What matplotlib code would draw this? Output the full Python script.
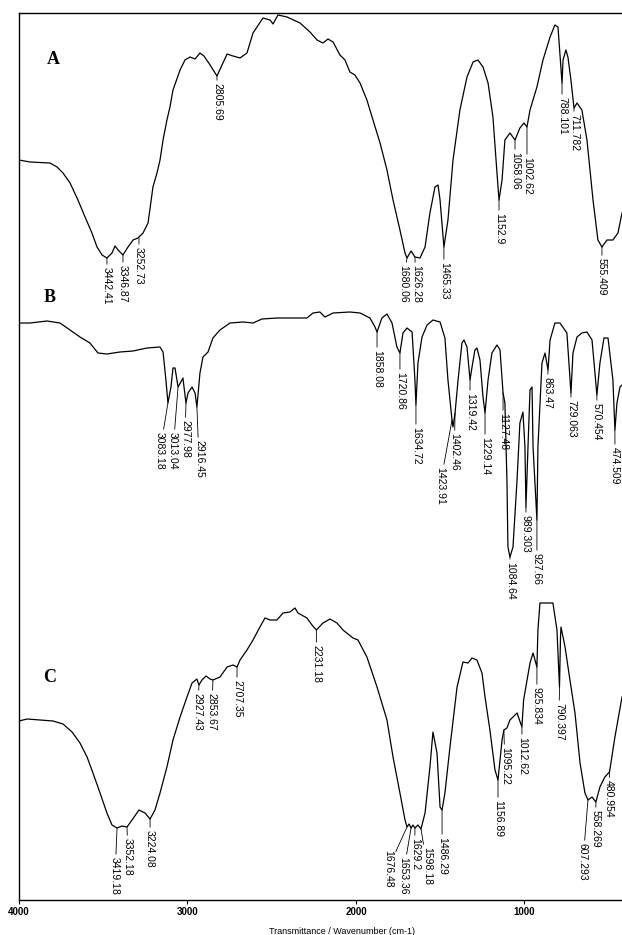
import matplotlib
matplotlib.use('Agg')
import matplotlib.pyplot as plt
import numpy as np

# ---------------- data (wavenumber cm-1, relative transmittance offset units) -------------
A_w = [4000,3935,3816,3774,3739,3697,3650,3608,3567,3537,3507,3478,3448,3430,3412,3383,3353,3323,3294,3264,
       3234,3205,3181,3163,3145,3122,3104,3086,3044,3015,2985,2955,2926,2902,2866,2825,2795,2765,2730,2688,
       2647,2611,2552,2510,2492,2463,2409,2332,2273,2231,2196,2166,2136,2095,2065,2036,2006,1976,1935,1899,
       1857,1816,1780,1739,1709,1697,1673,1650,1620,1590,1561,1531,1513,1501,1478,1454,1424,1383,1341,1305,
       1276,1246,1216,1187,1163,1151,1133,1116,1086,1056,1027,1003,985,967,926,890,848,819,801,777,
       771,754,742,724,706,688,659,629,593,564,540,510,475,445,421]
A_y = [740,738,737,733,727,717,700,683,667,653,645,642,647,654,650,645,653,660,662,667,
       677,713,727,740,760,780,793,810,830,840,843,841,847,844,835,824,835,846,844,842,
       847,867,882,880,876,885,883,877,868,860,857,861,858,845,840,828,825,817,800,780,
       757,730,700,670,647,642,649,643,642,653,687,713,715,700,653,680,740,790,823,838,
       840,833,817,783,727,700,720,760,767,760,772,777,773,790,813,840,863,875,873,817,
       840,850,843,820,792,797,790,760,700,660,653,660,660,667,687]

B_w = [4000,3935,3834,3757,3697,3638,3579,3531,3478,3401,3323,3240,3163,3145,3128,3116,3098,3086,3074,3056,
       3033,3027,3009,2997,2973,2955,2944,2926,2908,2878,2849,2807,2748,2671,2611,2558,2469,2374,2291,2255,
       2214,2184,2136,2036,1976,1917,1887,1875,1846,1816,1786,1757,1739,1721,1697,1667,1650,1644,1632,1608,
       1578,1543,1501,1472,1454,1430,1424,1412,1394,1371,1359,1341,1323,1311,1294,1282,1264,1246,1234,1216,
       1193,1163,1145,1127,1116,1104,1098,1086,1068,1044,1027,1009,997,991,979,967,955,949,926,920,
       896,878,860,848,819,789,748,724,712,688,659,629,599,570,552,528,504,475,463,451,
       433,421]
B_y = [577,577,579,577,570,563,557,547,546,548,549,552,553,548,520,497,513,532,532,513,
       520,522,497,507,513,507,493,527,543,548,562,570,577,578,577,581,582,582,582,587,
       588,583,587,588,587,582,573,568,582,586,577,553,547,567,572,568,520,495,537,563,
       575,580,578,562,520,480,473,487,520,557,560,553,520,533,550,552,540,503,487,520,
       547,555,550,507,497,420,353,343,353,420,477,488,453,393,453,510,513,453,380,453,
       537,547,530,560,577,577,567,507,547,563,567,568,560,505,537,562,562,520,470,497,
       513,515]

C_w = [4000,3952,3875,3798,3739,3685,3638,3596,3561,3519,3478,3448,3418,3389,3359,3329,3288,3252,3222,3193,
       3163,3122,3086,3044,3003,2973,2944,2932,2914,2890,2866,2849,2807,2765,2730,2706,2688,2647,2611,2570,
       2540,2510,2469,2433,2392,2362,2344,2291,2261,2235,2196,2154,2113,2077,2018,1988,1935,1875,1816,1780,
       1739,1709,1697,1685,1673,1662,1650,1632,1614,1590,1561,1543,1519,1501,1489,1472,1442,1400,1365,1335,
       1311,1282,1252,1234,1205,1175,1157,1133,1122,1104,1086,1044,1015,1005,967,949,926,920,908,831,
       807,792,786,783,759,730,700,670,641,623,599,576,552,523,495,463,421]
C_y = [179,181,180,179,176,168,157,143,127,107,87,75,72,74,73,80,90,87,81,90,
       107,133,160,183,203,217,221,215,220,224,221,220,223,233,235,233,240,250,260,273,
       282,280,280,287,288,292,287,282,275,270,277,281,277,270,262,260,243,213,180,143,
       107,80,73,76,72,75,72,75,71,87,133,168,147,93,90,107,153,213,238,237,
       242,240,227,203,170,130,120,160,170,172,180,187,173,200,237,247,233,270,297,297,
       270,213,263,273,253,220,187,137,107,100,103,98,113,123,128,163,203]

# peak labels: text, position of the band, text anchor position
A_lbl = ['3442.41','3346.87','3252.73','2805.69','1680.06','1626.28','1465.33','1152.9',
         '1058.06','1002.62','788.101','711.782','555.409']
A_at = [3478,3383,3288,2825,1697,1650,1478,1151,1056,985,777,706,540]
A_tx = [3478,3383,3288,2825,1721,1644,1478,1151,1056,985,777,706,540]
A_ty = [633,635,653,817,635,635,638,687,748,743,803,786,642]

B_lbl = ['3083.18','3013.04','2977.98','2916.45','1858.08','1720.86','1634.72','1423.91','1402.46',
         '1319.42','1229.14','1127.48','1084.64','989.303','927.66','863.47','729.063','570.454','474.509']
B_at = [3116,3056,3009,2944,1875,1739,1644,1430,1412,1323,1234,1127,1086,991,926,860,724,570,463]
B_tx = [3163,3086,3015,2932,1875,1739,1644,1501,1416,1323,1234,1127,1086,991,926,866,724,570,463]
B_ty = [468,468,480,460,550,528,473,433,467,507,463,487,338,385,347,523,500,497,453]

C_lbl = ['3419.18','3352.18','3224.08','2927.43','2853.67','2707.35','2231.18','1676.48','1653.36',
         '1629.2','1598.18','1486.29','1156.89','1095.22','1012.62','925.834','790.397','607.293',
         '558.269','480.954']
C_at = [3418,3359,3222,2932,2849,2706,2235,1697,1673,1650,1614,1489,1157,1122,1015,926,792,623,576,495]
C_tx = [3430,3353,3222,2938,2855,2706,2235,1810,1721,1650,1578,1489,1157,1116,1015,926,795,653,576,498]
C_ty = [43,62,70,207,207,220,255,50,43,62,53,63,100,153,163,213,197,57,90,120]

panel_names = ['A', 'B', 'C']
panel_pos = [(3798, 840), (3816, 602), (3816, 223)]

x_ticks = [4000, 3000, 2000, 1000]
x_label = 'Transmittance / Wavenumber (cm-1)'

SANS = ['Liberation Sans Narrow', 'Liberation Sans', 'DejaVu Sans']

# ---------------- figure ----------------
fig = plt.figure(figsize=(6.22, 9.35), dpi=100)
ax = fig.add_axes([19/622, 35/935, 603/622, 887/935])
ax.set_xlim(4000, 421)
ax.set_ylim(0, 887)
ax.spines['right'].set_visible(False)
for s in ['left', 'top', 'bottom']:
    ax.spines[s].set_linewidth(1.0)
ax.set_yticks([])
ax.set_xticks(x_ticks)
ax.set_xticklabels([str(t) for t in x_ticks])
ax.tick_params(axis='x', length=3, width=0.8, labelsize=7, pad=2)
for t in ax.get_xticklabels():
    t.set_family(['Liberation Sans', 'DejaVu Sans'])
    t.set_fontweight('bold')

spectra = [(A_w, A_y, A_lbl, A_at, A_tx, A_ty),
           (B_w, B_y, B_lbl, B_at, B_tx, B_ty),
           (C_w, C_y, C_lbl, C_at, C_tx, C_ty)]

for w, y, lbls, at, tx, ty in spectra:
    ax.plot(w, y, color='black', lw=0.9)
    wa = np.array(w)[::-1]
    ya = np.array(y)[::-1]
    for lab, a, xt, yt in zip(lbls, at, tx, ty):
        yd = np.interp(a, wa, ya)
        ax.annotate(lab, xy=(a, yd), xytext=(xt, yt), rotation=270,
                    ha='center', va='top', fontsize=7.5, family=SANS,
                    arrowprops=dict(arrowstyle='-', lw=0.6, color='black',
                                    shrinkA=0, shrinkB=0))

for name, (px, py) in zip(panel_names, panel_pos):
    ax.text(px, py, name, fontsize=13, fontweight='bold', family='Liberation Serif',
            ha='center', va='center')

fig.text(342/622, 1 - 931/935, x_label, ha='center', va='center', fontsize=6.5,
         family=['Liberation Sans', 'DejaVu Sans'])

fig.savefig('out.png', dpi=100)
